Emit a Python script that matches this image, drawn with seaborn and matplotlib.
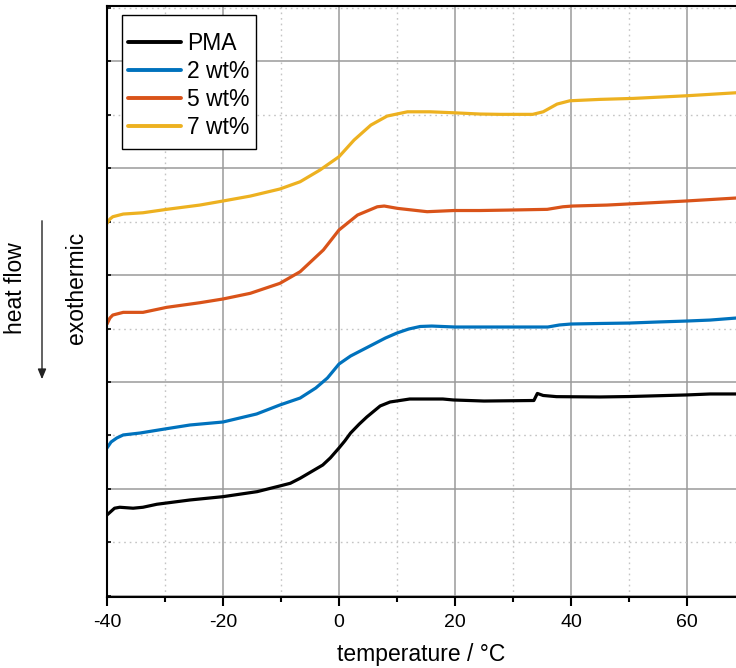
import numpy as np
import pandas as pd
import matplotlib
matplotlib.use("Agg")
import matplotlib.pyplot as plt
from matplotlib.ticker import MultipleLocator, FixedLocator
from matplotlib.patches import Rectangle, FancyArrowPatch
import seaborn as sns

# ---- data (heat flow in arbitrary units) ----
t_pma = [-40, -38.7, -37.8, -35.5, -33.8, -31.4, -25.7, -20, -14.1, -10.2, -8.4, -6.7, -2.8, -1.5,
         0, 1, 2, 3.5, 4.8, 7.1, 8.8, 12.2, 17.9, 19.7, 25, 33.6, 34.2, 35.2, 37.5, 45, 50, 60, 64, 68.5]
hf_pma = [-0.243, -0.180, -0.171, -0.180, -0.171, -0.143, -0.103, -0.072, -0.025, 0.028, 0.053, 0.100,
          0.224, 0.290, 0.383, 0.449, 0.523, 0.607, 0.673, 0.776, 0.813, 0.841, 0.841, 0.832, 0.822,
          0.827, 0.893, 0.874, 0.863, 0.860, 0.864, 0.879, 0.888, 0.888]

t_2 = [-40, -39.3, -38.3, -37.2, -34.3, -30, -25.7, -20, -14.2, -10.2, -6.7, -4, -2, 0, 2, 5, 8, 10,
       12, 14, 16, 20, 25, 30, 36, 38, 40, 45, 50, 55, 60, 64, 68.5]
hf_2 = [0.383, 0.439, 0.477, 0.505, 0.523, 0.561, 0.598, 0.626, 0.701, 0.785, 0.850, 0.944, 1.037,
        1.168, 1.243, 1.327, 1.411, 1.458, 1.495, 1.519, 1.523, 1.514, 1.514, 1.514, 1.514, 1.533,
        1.542, 1.547, 1.551, 1.561, 1.570, 1.579, 1.598]

t_5 = [-40, -39.5, -39, -37.2, -33.8, -29.7, -24, -20, -15.3, -10.2, -6.7, -2.7, 0, 3.2, 6.6, 7.8,
       10.1, 15.2, 19.8, 24.3, 29, 35.9, 38.6, 40.3, 46.2, 51.9, 59.8, 68.5]
hf_5 = [1.542, 1.598, 1.626, 1.651, 1.651, 1.698, 1.741, 1.776, 1.829, 1.922, 2.031, 2.234, 2.421,
        2.561, 2.638, 2.645, 2.623, 2.592, 2.603, 2.603, 2.607, 2.614, 2.638, 2.645, 2.654, 2.670,
        2.692, 2.720]

t_7 = [-40, -39.5, -39, -37.2, -33.8, -29.7, -24, -20, -15.3, -10.2, -6.7, -3.3, 0, 2.6, 5.5, 8.3,
       11.8, 15.7, 19.7, 24.3, 27.8, 33.4, 35.2, 37.6, 39.8, 45, 50.7, 60, 68.5]
hf_7 = [2.483, 2.523, 2.545, 2.570, 2.582, 2.614, 2.654, 2.692, 2.738, 2.804, 2.872, 2.981, 3.106,
        3.262, 3.402, 3.486, 3.526, 3.526, 3.517, 3.505, 3.502, 3.502, 3.526, 3.598, 3.629, 3.642,
        3.651, 3.676, 3.704]

series_names = ["PMA", "2 wt%", "5 wt%", "7 wt%"]
series_colors = ["#000000", "#0072BD", "#D95319", "#EDB120"]
x_ticks = [-40, -20, 0, 20, 40, 60]
x_tick_labels = ["-40", "-20", "0", "20", "40", "60"]

frames = []
for name, t, h in zip(series_names, [t_pma, t_2, t_5, t_7], [hf_pma, hf_2, hf_5, hf_7]):
    frames.append(pd.DataFrame({"temperature": t, "heat flow": h, "sample": name}))
df = pd.concat(frames, ignore_index=True)

# ---- style ----
sns.set_theme(style="white")
plt.rcParams["font.family"] = ["Liberation Sans", "DejaVu Sans"]
plt.rcParams["axes.unicode_minus"] = False
plt.rcParams["text.color"] = "black"
plt.rcParams["axes.labelcolor"] = "black"
plt.rcParams["xtick.color"] = "black"
plt.rcParams["ytick.color"] = "black"

W, H = 736, 668
fig = plt.figure(figsize=(W / 100, H / 100), dpi=100)
ax = fig.add_axes([107 / W, (H - 597) / H, (W - 107) / W, (597 - 6) / H])

sns.lineplot(data=df, x="temperature", y="heat flow", hue="sample",
             hue_order=series_names, palette=series_colors,
             estimator=None, sort=False, linewidth=2.3, ax=ax)

ax.set_xlim(-40, 68.45)
ax.set_ylim(-1.01, 4.515)

ax.xaxis.set_major_locator(FixedLocator(x_ticks))
ax.set_xticklabels(x_tick_labels)
ax.xaxis.set_minor_locator(MultipleLocator(10))
ax.yaxis.set_major_locator(MultipleLocator(1))
ax.yaxis.set_minor_locator(MultipleLocator(0.5))
ax.set_yticklabels([])

ax.grid(True, which="major", color="#9a9a9a", linewidth=1.1, linestyle="-")
ax.grid(True, which="minor", color="#c4c4c4", linewidth=1.0, linestyle=(0, (1.2, 2.8)))
ax.set_axisbelow(True)

for side in ["left", "bottom", "top"]:
    ax.spines[side].set_visible(True)
    ax.spines[side].set_color("black")
    ax.spines[side].set_linewidth(1.5)
ax.spines["right"].set_visible(False)

ax.tick_params(axis="x", which="major", direction="out", length=6.5, width=1.5,
               colors="black", labelcolor="black", labelsize=14, pad=5.5, bottom=True, top=False)
ax.tick_params(axis="x", which="minor", direction="out", length=3.5, width=1.5,
               colors="black", bottom=True, top=False)
ax.tick_params(axis="y", which="both", direction="in", length=3, width=1.2,
               colors="black", left=True, right=False)

ax.set_xlabel("temperature / °C", fontsize=16.5, labelpad=9, color="black")
ax.set_ylabel("")

# legend box (frame drawn separately to match the reference padding)
box = Rectangle((122 / W, 1 - 149 / H), (256 - 122) / W, (149 - 15) / H,
                transform=fig.transFigure, facecolor="white", edgecolor="black",
                linewidth=1.0, zorder=4)
ax.add_patch(box)
box.set_clip_on(False)

leg = ax.legend(loc="upper left", bbox_to_anchor=((128 - 107) / 629, 1 - 26 / 591),
                fontsize=16.5, frameon=False, handlelength=2.3, handletextpad=0.26,
                labelspacing=0.22, borderpad=0, borderaxespad=0)
leg.set_zorder(5)
for line in leg.get_lines():
    line.set_linewidth(2.8)
for txt in leg.get_texts():
    txt.set_color("black")

# left annotation
fig.text(16 / W, 1 - 288 / H, "heat flow", rotation=90, ha="center", va="center",
         fontsize=16.5, color="black")
fig.text(76 / W, 1 - 288 / H, "exothermic", rotation=90, ha="center", va="center",
         fontsize=16.5, color="black")
fig.add_artist(FancyArrowPatch(
    (42 / W, 1 - 218 / H), (42 / W, 1 - 382 / H), transform=fig.transFigure,
    arrowstyle="-|>,head_length=6,head_width=2.5", color="#222222", linewidth=1.0))

fig.savefig("out.png", dpi=100)
